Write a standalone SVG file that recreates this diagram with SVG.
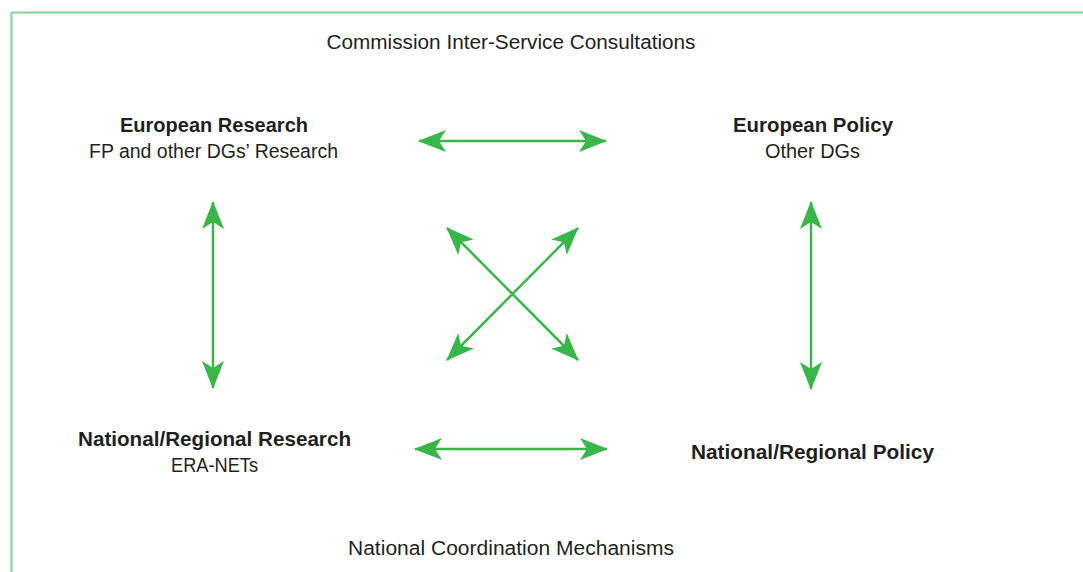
<svg xmlns="http://www.w3.org/2000/svg" width="1083" height="572" viewBox="0 0 1083 572">
<style>
text{font-family:"Liberation Sans",Arial,sans-serif;fill:#231f20;text-anchor:middle;font-size:20px}
.b{font-weight:bold}
.c{stroke:#39b54a;stroke-width:2.5;fill:none;marker-start:url(#ah);marker-end:url(#ah)}
</style>
<defs>
<marker id="ah" viewBox="0 0 28 22" refX="27" refY="11" markerWidth="28" markerHeight="22" markerUnits="userSpaceOnUse" orient="auto-start-reverse">
<path d="M28,11 L0,0 L7,11 L0,22 Z" fill="#39b54a"/>
</marker>
</defs>
<rect x="11.5" y="12.5" width="1100" height="600" fill="none" stroke="#82d595" stroke-width="2"/>
<text x="511" y="49" textLength="369" lengthAdjust="spacingAndGlyphs">Commission Inter-Service Consultations</text>
<text x="511" y="555" textLength="326" lengthAdjust="spacingAndGlyphs">National Coordination Mechanisms</text>
<g id="n-eu-research">
<text class="b" x="214" y="132" textLength="188" lengthAdjust="spacingAndGlyphs">European Research</text>
<text x="213.5" y="158" textLength="249" lengthAdjust="spacingAndGlyphs">FP and other DGs’ Research</text>
</g>
<g id="n-eu-policy">
<text class="b" x="813" y="132" textLength="160" lengthAdjust="spacingAndGlyphs">European Policy</text>
<text x="812.5" y="158" textLength="95" lengthAdjust="spacingAndGlyphs">Other DGs</text>
</g>
<g id="n-nat-research">
<text class="b" x="214.5" y="446" textLength="273" lengthAdjust="spacingAndGlyphs">National/Regional Research</text>
<text x="214.5" y="472" textLength="87" lengthAdjust="spacingAndGlyphs">ERA-NETs</text>
</g>
<g id="n-nat-policy">
<text class="b" x="812.5" y="459" textLength="243" lengthAdjust="spacingAndGlyphs">National/Regional Policy</text>
</g>
<g id="connectors">
<line class="c" x1="419" y1="141" x2="606" y2="141"/>
<line class="c" x1="415" y1="449" x2="607" y2="449"/>
<line class="c" x1="213" y1="202" x2="213" y2="388"/>
<line class="c" x1="811" y1="202" x2="811" y2="389"/>
<line class="c" x1="447" y1="228" x2="578" y2="360"/>
<line class="c" x1="578" y1="228" x2="447" y2="360"/>
</g>
</svg>
